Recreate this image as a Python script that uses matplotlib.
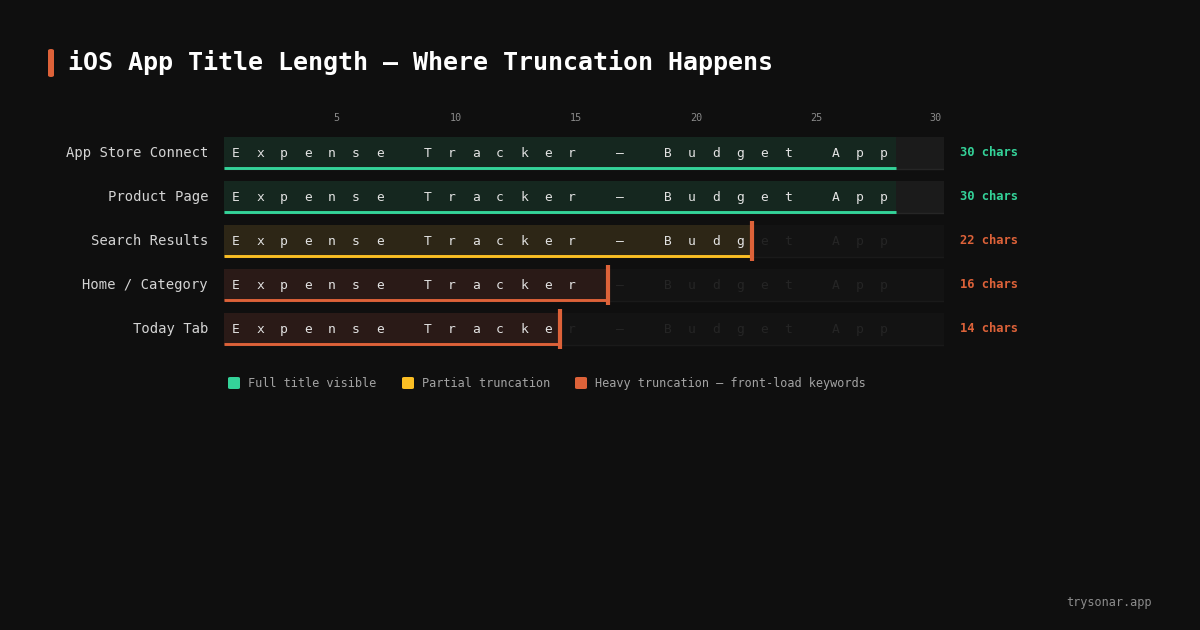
import matplotlib
matplotlib.use("Agg")
import matplotlib.pyplot as plt
from matplotlib.patches import Rectangle, FancyBboxPatch

# ---- data ----
title_text = "Expense Tracker — Budget App"
surfaces = ["App Store Connect", "Product Page", "Search Results", "Home / Category", "Today Tab"]
visible_chars = [30, 30, 22, 16, 14]
status = ["full", "full", "partial", "heavy", "heavy"]
tick_values = [5, 10, 15, 20, 25, 30]
max_chars = 30
legend_labels = ["Full title visible", "Partial truncation", "Heavy truncation — front-load keywords"]

# ---- style ----
BG = "#0f0f0f"
MONO = ["DejaVu Sans Mono"]
line_col = {"full": "#34d399", "partial": "#fbbf24", "heavy": "#dd6239"}
fill_col = {"full": "#15271f", "partial": "#2d2616", "heavy": "#2a1a17"}
count_col = {"full": "#34d399", "partial": "#dd6239", "heavy": "#dd6239"}
ORANGE = "#dd6239"

W, H = 1200, 630
fig = plt.figure(figsize=(12, 6.3), dpi=100, facecolor=BG)

def fx(px):
    return px / W

def fy(py):
    return 1 - py / H

# chart axes: x in character cells, y in row index
row_pitch = 44
top_px = 153 - row_pitch / 2
n = len(surfaces)
ax = fig.add_axes([fx(224), fy(top_px + n * row_pitch), fx(720), n * row_pitch / H])
ax.set_facecolor("none")
ax.set_xlim(0, max_chars)
ax.set_ylim(n - 0.5, -0.5)
for s in ax.spines.values():
    s.set_visible(False)

half = 16 / row_pitch
for i, (name, vis, st) in enumerate(zip(surfaces, visible_chars, status)):
    truncated = vis < len(title_text)
    track = "#1b1b1b" if not truncated else "#131313"
    ax.add_patch(Rectangle((0, i - half), max_chars, 2 * half, facecolor=track, edgecolor="none", zorder=1))
    ax.plot([0, max_chars], [i + half, i + half], color="#262626" if not truncated else "#1a1a1a",
            lw=1, solid_capstyle="butt", zorder=1.5)
    fill_end = min(vis, len(title_text))
    ax.add_patch(Rectangle((0, i - half), fill_end, 2 * half, facecolor=fill_col[st], edgecolor="none", zorder=2))
    ax.plot([0, fill_end], [i + half - 1.5 / row_pitch] * 2, color=line_col[st], lw=2.1,
            solid_capstyle="butt", zorder=3)
    for k, ch in enumerate(title_text):
        c = "#e2e2e2" if k < vis else "#252525"
        ax.text(k + 0.5, i + 0.01, ch, ha="center", va="center", color=c, fontsize=9.4,
                family=MONO, zorder=4)
    if truncated:
        ax.plot([vis, vis], [i - 20 / row_pitch, i + 20 / row_pitch], color=ORANGE, lw=3,
                solid_capstyle="butt", zorder=5)
    ax.text(max_chars + 16 / 24, i, f"{vis} chars", ha="left", va="center", color=count_col[st],
            fontsize=8.7, fontweight="bold", family=MONO)
    ax.text(-16 / 24, i, name, ha="right", va="center", color="#d4d4d4", fontsize=10.0, family=MONO)

ax.set_yticks([])
ax.xaxis.set_ticks_position("top")
ax.set_xticks([t - 0.5 + 4 / 24 for t in tick_values])
ax.set_xticklabels([str(t) for t in tick_values], color="#8a8a8a", fontsize=7.3, family=MONO)
ax.tick_params(axis="x", length=0, pad=6)

# title
fig.patches.append(FancyBboxPatch((fx(48), fy(77)), fx(6), 28 / H,
                                  boxstyle="round,pad=0,rounding_size=0.0025",
                                  transform=fig.transFigure, facecolor=ORANGE, edgecolor="none"))
fig.text(fx(68), fy(62.5), "iOS App Title Length — Where Truncation Happens", color="#ffffff",
         fontsize=18.0, fontweight="bold", family=MONO, ha="left", va="center")

# legend
leg_x = [228, 402, 575]
for x, lab, st in zip(leg_x, legend_labels, ["full", "partial", "heavy"]):
    fig.patches.append(FancyBboxPatch((fx(x), fy(389)), fx(12), 12 / H,
                                      boxstyle="round,pad=0,rounding_size=0.002",
                                      transform=fig.transFigure, facecolor=line_col[st], edgecolor="none"))
    fig.text(fx(x + 20), fy(383.5), lab, color="#a3a3a3", fontsize=8.6, family=MONO, ha="left", va="center")

fig.text(fx(1152), fy(602.5), "trysonar.app", color="#8c8c8c", fontsize=8.6, family=MONO, ha="right", va="center")

fig.savefig("out.png", dpi=100, facecolor=BG)
